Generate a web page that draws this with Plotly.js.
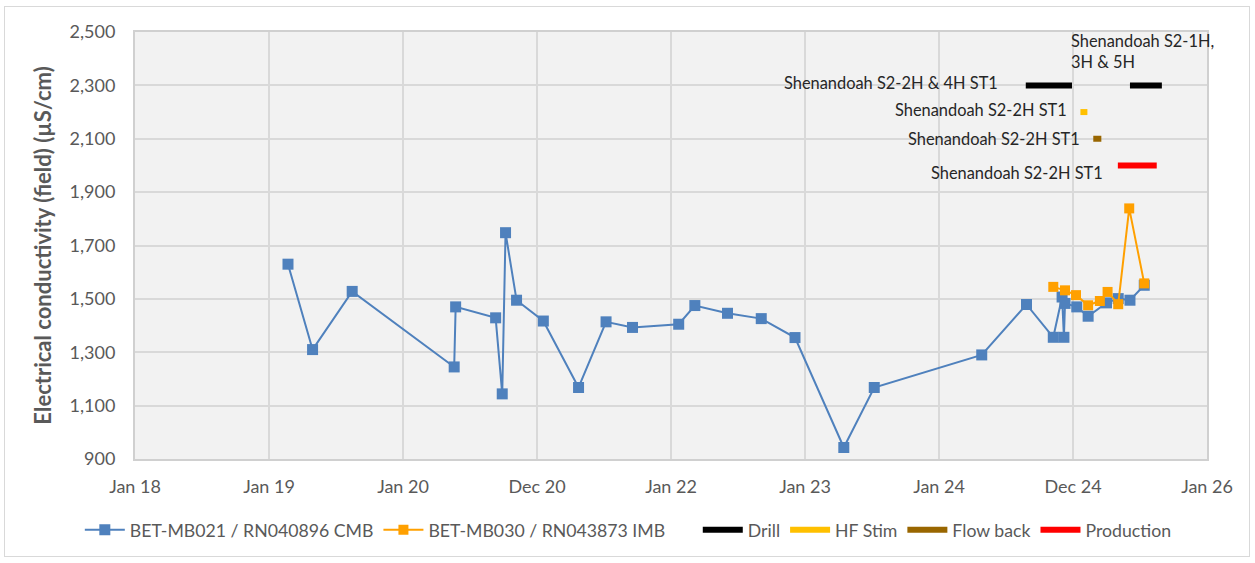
<!DOCTYPE html>
<html>
<head>
<meta charset="utf-8">
<script src="https://cdn.plot.ly/plotly-3.0.1.min.js"></script>
<style>
  html, body { margin: 0; padding: 0; background: #ffffff; }
  #chart { width: 1255px; height: 563px; position: relative; }
  #frame { position: absolute; left: 4px; top: 6px; width: 1246px; height: 551px;
           border: 1px solid #d9d9d9; pointer-events: none; box-sizing: border-box; }
</style>
</head>
<body>
<div id="chart"></div>
<div id="frame"></div>
<script>
// ---- Data ----
const seriesNames = ["BET-MB021 / RN040896 CMB", "BET-MB030 / RN043873 IMB"];

const mb021Dates = [
  "2019-02-22", "2019-04-30", "2019-08-16", "2020-05-20", "2020-05-24",
  "2020-09-10", "2020-09-28", "2020-10-07", "2020-11-06", "2021-01-18",
  "2021-04-24", "2021-07-08", "2021-09-18", "2022-01-22", "2022-03-07",
  "2022-06-04", "2022-09-04", "2022-12-05", "2023-04-17", "2023-07-09",
  "2024-04-27", "2024-08-27", "2024-11-08", "2024-12-02", "2024-12-07",
  "2024-12-10", "2025-01-11", "2025-02-11", "2025-04-02", "2025-05-04",
  "2025-06-05", "2025-07-14"
];
const mb021Values = [
  1630, 1310, 1528, 1245, 1470,
  1429, 1144, 1748, 1495, 1417,
  1168, 1414, 1393, 1405, 1475,
  1446, 1426, 1355, 943, 1168,
  1290, 1479, 1356, 1507, 1356,
  1483, 1470, 1435, 1485, 1501,
  1495, 1551
];

const mb030Dates = [
  "2024-11-08", "2024-12-10", "2025-01-09", "2025-02-11", "2025-03-15",
  "2025-04-05", "2025-05-04", "2025-06-03", "2025-07-14"
];
const mb030Values = [1545, 1532, 1514, 1476, 1492, 1526, 1480, 1839, 1558];

// Activity periods (start, end) and plotting level
const activityNames = ["Drill", "HF Stim", "Flow back", "Production"];
const drillPeriods = [["2024-08-25", "2024-12-29"], ["2025-06-05", "2025-08-31"]];
const drillLevel = 2300;
const hfStimPeriods = [["2025-01-21", "2025-02-09"]];
const hfStimLevel = 2200;
const flowBackPeriods = [["2025-02-25", "2025-03-19"]];
const flowBackLevel = 2100;
const productionPeriods = [["2025-05-03", "2025-08-17"]];
const productionLevel = 2000;

// Activity labels
const labelDrill = "Shenandoah S2-2H & 4H ST1";
const labelDrill2 = "Shenandoah S2-1H,<br>3H & 5H";
const labelHF = "Shenandoah S2-2H ST1";
const labelFlow = "Shenandoah S2-2H ST1";
const labelProd = "Shenandoah S2-2H ST1";

// Axis ticks
const xTickVals = [
  "2018-01-01", "2019-01-01 06:00", "2020-01-01 12:00", "2020-12-31 18:00",
  "2022-01-01", "2023-01-01 06:00", "2024-01-01 12:00", "2024-12-31 18:00", "2026-01-01"
];
const xTickText = ["Jan 18", "Jan 19", "Jan 20", "Dec 20", "Jan 22", "Jan 23", "Jan 24", "Dec 24", "Jan 26"];
const yTitle = "Electrical conductivity (field) (µS/cm)";

// ---- Build ----
function periodsToXY(periods, level) {
  const x = [], y = [];
  periods.forEach((p, i) => {
    if (i > 0) { x.push(null); y.push(null); }
    x.push(p[0], p[1]); y.push(level, level);
  });
  return {x, y};
}

const FONT = "Lato, 'Open Sans', sans-serif";
const GREY = "#595959";

const traces = [
  {
    name: seriesNames[0], x: mb021Dates, y: mb021Values, type: "scatter", mode: "lines+markers",
    line: {color: "#4f81bd", width: 2},
    marker: {symbol: "square", size: 11, color: "#4f81bd"}, legend: "legend"
  },
  {
    name: seriesNames[1], x: mb030Dates, y: mb030Values, type: "scatter", mode: "lines+markers",
    line: {color: "#ffa000", width: 2},
    marker: {symbol: "square", size: 10, color: "#ffa000"}, legend: "legend"
  }
];
const actSpecs = [
  [drillPeriods, drillLevel, "#000000"],
  [hfStimPeriods, hfStimLevel, "#ffc000"],
  [flowBackPeriods, flowBackLevel, "#996600"],
  [productionPeriods, productionLevel, "#ff0000"]
];
actSpecs.forEach((s, i) => {
  const xy = periodsToXY(s[0], s[1]);
  traces.push({
    name: activityNames[i], x: xy.x, y: xy.y, type: "scatter", mode: "lines",
    line: {color: s[2], width: 6}, connectgaps: false, legend: "legend2"
  });
});

const annFont = {family: FONT, size: 16.4, color: "#262626"};
const annotations = [
  {x: "2024-06-15", y: 2312, text: labelDrill, xanchor: "right"},
  {x: "2024-12-21", y: 2430, text: labelDrill2, xanchor: "left", align: "left"},
  {x: "2024-12-21", y: 2210, text: labelHF, xanchor: "right"},
  {x: "2025-01-24", y: 2100, text: labelFlow, xanchor: "right"},
  {x: "2025-03-29", y: 1972, text: labelProd, xanchor: "right"}
].map(a => Object.assign({xref: "x", yref: "y", showarrow: false, yanchor: "middle",
                           font: annFont}, a));

const legendBase = {
  orientation: "h", xref: "container", yref: "container",
  xanchor: "left", y: 0.058, yanchor: "middle",
  font: {family: FONT, size: 17.7, color: GREY},
  itemwidth: 40, tracegroupgap: 0, bgcolor: "rgba(0,0,0,0)"
};

const layout = {
  width: 1255, height: 563,
  margin: {l: 135, r: 48, t: 32, b: 104},
  paper_bgcolor: "#ffffff",
  plot_bgcolor: "#f2f2f2",
  font: {family: FONT, color: GREY},
  showlegend: true,
  legend: Object.assign({}, legendBase, {x: 0.0636}),
  legend2: Object.assign({}, legendBase, {x: 0.556}),
  xaxis: {
    type: "date",
    range: ["2018-01-01", "2026-01-01"],
    tickmode: "array", tickvals: xTickVals, ticktext: xTickText,
    tickfont: {family: FONT, size: 18, color: GREY},
    showgrid: true, gridcolor: "#d9d9d9", gridwidth: 2,
    showline: true, mirror: true, linecolor: "#d0d0d0", linewidth: 2,
    ticks: "outside", ticklen: 10, tickcolor: "rgba(0,0,0,0)",
    zeroline: false
  },
  yaxis: {
    range: [900, 2500], dtick: 200, tick0: 900, tickformat: ",d",
    tickfont: {family: FONT, size: 18, color: GREY},
    showgrid: true, gridcolor: "#d9d9d9", gridwidth: 2,
    showline: true, mirror: true, linecolor: "#d0d0d0", linewidth: 2,
    ticks: "outside", ticklen: 14, tickcolor: "rgba(0,0,0,0)",
    zeroline: false,
    title: {text: yTitle, font: {family: FONT, size: 22, color: GREY, weight: "bold"}, standoff: 12}
  },
  annotations: annotations
};

Plotly.newPlot("chart", traces, layout, {displayModeBar: false, staticPlot: true});
</script>
</body>
</html>
